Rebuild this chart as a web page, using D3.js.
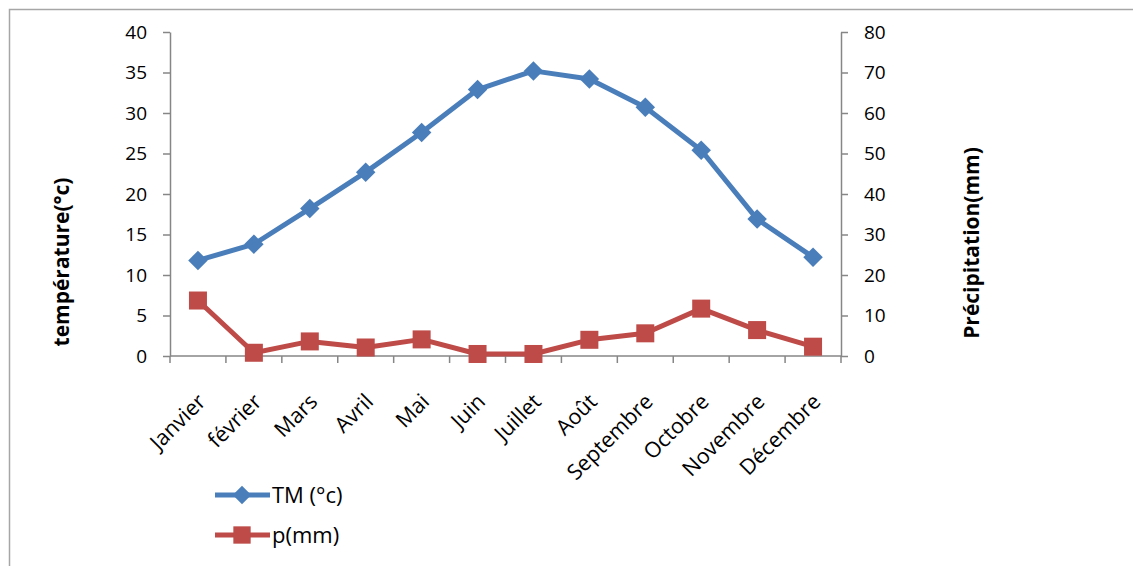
<!DOCTYPE html>
<html>
<head>
<meta charset="utf-8">
<script src="https://d3js.org/d3.v7.min.js"></script>
<style>
body {margin: 0; background: #fff;}
svg text {font-family: "Open Sans", "Liberation Sans", sans-serif; fill: #000;}
</style>
</head>
<body>
<svg id="chart" width="1133" height="566"></svg>
<script>
// data
var months = ["Janvier","février","Mars","Avril","Mai","Juin","Juillet","Août","Septembre","Octobre","Novembre","Décembre"];
var temperature = [11.8, 13.8, 18.2, 22.7, 27.6, 32.9, 35.2, 34.2, 30.7, 25.4, 16.9, 12.2];
var precipitation = [13.7, 0.8, 3.6, 2.1, 4.1, 0.5, 0.5, 4.0, 5.6, 11.7, 6.4, 2.3];
var tempTicks = [0,5,10,15,20,25,30,35,40];
var precTicks = [0,10,20,30,40,50,60,70,80];

var blue = "#4a7ebb", red = "#be4b48", grey = "#868686";

var svg = d3.select("#chart");

// outer chart frame (cut at right and bottom)
svg.append("path")
    .attr("d", "M9.5,566 V9.5 H1133")
    .attr("fill", "none").attr("stroke", "#a6a6a6").attr("stroke-width", 1.5);

var pLeft = 170, pRight = 841, pTop = 32, pBottom = 356;

var x = d3.scaleBand().domain(months).range([pLeft, pRight]);
var yT = d3.scaleLinear().domain([0, 40]).range([pBottom, pTop]);
var yP = d3.scaleLinear().domain([0, 80]).range([pBottom, pTop]);

// left axis
var gL = svg.append("g").attr("transform", "translate(" + pLeft + ",0)")
    .call(d3.axisLeft(yT).tickValues(tempTicks).tickSize(7).tickPadding(16).tickSizeOuter(0));
// right axis
var gR = svg.append("g").attr("transform", "translate(" + pRight + ",0)")
    .call(d3.axisRight(yP).tickValues(precTicks).tickSize(7).tickPadding(16).tickSizeOuter(0));
[gL, gR].forEach(function(g){
    g.select(".domain").attr("stroke", grey).attr("stroke-width", 1.5);
    g.selectAll(".tick line").attr("stroke", grey).attr("stroke-width", 1.5);
    g.selectAll(".tick text").style("font-size", "19px").attr("fill", "#000");
});

// bottom axis: category boundary ticks
var gB = svg.append("g").attr("transform", "translate(0," + pBottom + ")");
gB.append("line").attr("x1", pLeft).attr("x2", pRight).attr("stroke", grey).attr("stroke-width", 1.5);
var bounds = months.map(function(m){ return x(m); }).concat([x.range()[1]]);
gB.selectAll(".btick").data(bounds).enter().append("line")
    .attr("x1", function(d){ return d; }).attr("x2", function(d){ return d; })
    .attr("y1", 0).attr("y2", 7)
    .attr("stroke", grey).attr("stroke-width", 1.5);

var gLab = svg.append("g").attr("transform", "translate(0," + pBottom + ")")
    .call(d3.axisBottom(x).tickSize(0).tickPadding(0));
gLab.select(".domain").remove();
gLab.selectAll(".tick text")
    .style("font-size", "21.5px")
    .attr("text-anchor", "end")
    .attr("y", 0)
    .attr("dy", 0)
    .attr("transform", "translate(9,47) rotate(-45)");

// axis titles
svg.append("text")
    .attr("transform", "translate(69," + ((pTop + pBottom) / 2 + 68) + ") rotate(-90)")
    .attr("text-anchor", "middle")
    .style("font-size", "21px").style("font-weight", "bold")
    .text("température(°c)");
svg.append("text")
    .attr("transform", "translate(979," + ((pTop + pBottom) / 2 + 49) + ") rotate(-90)")
    .attr("text-anchor", "middle")
    .style("font-size", "21px").style("font-weight", "bold")
    .text("Précipitation(mm)");

function cx(d, i){ return x(months[i]) + x.bandwidth() / 2; }

// precipitation line
svg.append("path").datum(precipitation)
    .attr("fill", "none").attr("stroke", red).attr("stroke-width", 5).attr("stroke-linejoin", "round")
    .attr("d", d3.line().x(cx).y(function(d){ return yP(d); }));
svg.selectAll(".psq").data(precipitation).enter().append("rect")
    .attr("x", function(d, i){ return cx(d, i) - 9; })
    .attr("y", function(d){ return yP(d) - 9; })
    .attr("width", 18).attr("height", 18).attr("fill", red);

// temperature line
svg.append("path").datum(temperature)
    .attr("fill", "none").attr("stroke", blue).attr("stroke-width", 5).attr("stroke-linejoin", "round")
    .attr("d", d3.line().x(cx).y(function(d){ return yT(d); }));
var diamond = d3.symbol().type(d3.symbolSquare).size(190);
svg.selectAll(".tdi").data(temperature).enter().append("path")
    .attr("d", diamond)
    .attr("transform", function(d, i){ return "translate(" + cx(d, i) + "," + yT(d) + ") rotate(45)"; })
    .attr("fill", blue);

// legend
var legend = [
    {name: "TM (°c)", color: blue, shape: "diamond", y: 495},
    {name: "p(mm)", color: red, shape: "square", y: 535}
];
var lg = svg.selectAll(".leg").data(legend).enter().append("g")
    .attr("transform", function(d){ return "translate(215," + d.y + ")"; });
lg.append("line").attr("x1", 0).attr("x2", 55)
    .attr("stroke", function(d){ return d.color; }).attr("stroke-width", 5);
lg.append("path")
    .attr("d", function(d){ return d.shape == "diamond" ? d3.symbol().type(d3.symbolSquare).size(170)() : d3.symbol().type(d3.symbolSquare).size(300)(); })
    .attr("transform", function(d){ return "translate(27,0)" + (d.shape == "diamond" ? " rotate(45)" : ""); })
    .attr("fill", function(d){ return d.color; });
lg.append("text").attr("x", 57).attr("y", 8)
    .style("font-size", "22px")
    .text(function(d){ return d.name; });
</script>
</body>
</html>
